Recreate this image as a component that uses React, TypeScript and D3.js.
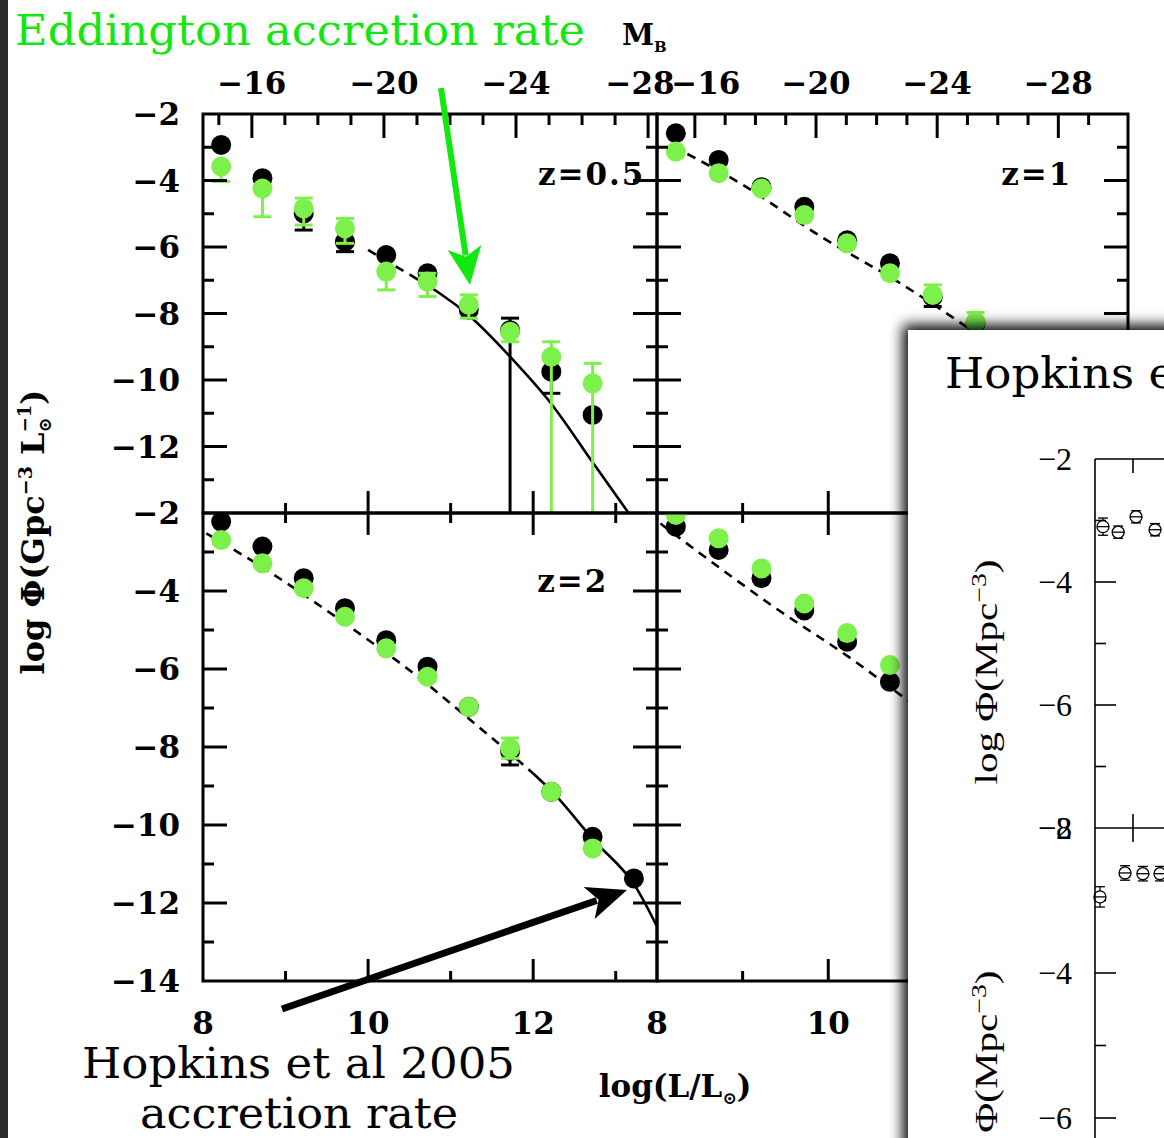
import React from 'react';
import * as d3 from 'd3';

const W = 1164;
const H = 1138;

// bin centres, log(L/Lsun), shared by all four panels
const binLogL = [8.22, 8.72, 9.22, 9.72, 10.22, 10.72, 11.22, 11.72, 12.22, 12.72, 13.22];

// z = 0.5
const z05Black = [-2.93, -3.93, -4.99, -5.84, -6.24, -6.79, -7.89, -8.5, -9.75, -11.05];
const z05BlackLo = [null, null, -5.49, -6.14, null, null, null, -15, -10.4, null];
const z05BlackHi = [null, null, null, null, null, null, null, -8.14, null, null];
const z05Green = [-3.58, -4.24, -4.84, -5.44, -6.74, -7.04, -7.74, -8.55, -9.3, -10.1];
const z05GreenLo = [-4.03, -5.09, -5.34, -5.89, -7.29, -7.49, -8.14, -8.85, -15, -15];
const z05GreenHi = [null, null, -4.53, -5.14, null, -6.79, -7.44, null, -8.85, -9.5];
const z05DashL = [10.0, 10.51];
const z05DashPhi = [-6.09, -6.84];
const z05SolidL = [10.51, 11.24, 11.72, 12.23, 12.73, 13.13, 13.3];
const z05SolidPhi = [-6.84, -8.1, -9.3, -10.75, -12.51, -13.91, -14.5];

// z = 1
const z1Black = [-2.58, -3.38, -4.2, -4.79, -5.8, -6.49, -7.5, -8.3];
const z1BlackLo = [null, null, null, null, null, null, -7.79, null];
const z1Green = [-3.13, -3.78, -4.24, -5.04, -5.89, -6.79, -7.44, -8.25];
const z1GreenHi = [null, null, null, null, null, null, -7.14, -7.97];
const z1DashL = [8.19, 8.97, 9.91, 10.84, 11.5, 12.0];
const z1DashPhi = [-2.98, -4.08, -5.68, -7.09, -8.2, -9.1];

// z = 2
const z2Black = [-2.22, -2.86, -3.67, -4.44, -5.26, -5.94, -6.97, -8.1, -9.15, -10.3, -11.37];
const z2BlackLo = [null, null, null, null, null, null, null, -8.46, null, null, null];
const z2Green = [-2.69, -3.29, -3.93, -4.66, -5.47, -6.2, -6.97, -8.03, -9.15, -10.6];
const z2GreenLo = [null, null, null, null, null, null, null, -8.29, null, null];
const z2GreenHi = [null, null, null, null, null, null, null, -7.77, null, null];
const z2DashL = [8.04, 8.71, 9.72, 10.73, 11.24, 11.72, 12.0];
const z2DashPhi = [-2.52, -3.38, -4.83, -6.41, -7.31, -8.16, -8.68];
const z2SolidL = [12.0, 12.21, 12.73, 13.24, 13.5];
const z2SolidPhi = [-8.68, -9.1, -10.38, -11.58, -12.6];

// z = 3 (right part hidden under the inset)
const z3Black = [-2.35, -2.95, -3.67, -4.5, -5.3, -6.33];
const z3Green = [-2.05, -2.65, -3.42, -4.32, -5.08, -5.9];
const z3DashL = [8.04, 8.5, 9.36, 10.29, 10.92, 11.5];
const z3DashPhi = [-2.27, -3.03, -4.4, -5.77, -6.79, -7.7];

// ticks
const xMajor = [10, 12];
const xMinor = [9, 11, 13];
const xLabels = [8, 10, 12];
const yMajor = [-4, -6, -8, -10, -12];
const yMinor = [-3, -5, -7, -9, -11, -13];
const topRowLabels = [-2, -4, -6, -8, -10, -12];
const bottomRowLabels = [-2, -4, -6, -8, -10, -12, -14];
const mbMajor = [-16, -20, -24, -28];
const mbMinorLeft = [-15, -17, -18, -19, -21, -22, -23, -25, -26, -27];
const mbMinorRight = [-17, -18, -19, -21, -22, -23, -25, -26, -27, -29];

// inset (Hopkins et al) points
const insetTopX = [0.21, 0.61, 1.08, 1.58];
const insetTopPhi = [-3.1, -3.19, -2.94, -3.15];
const insetBotX = [0.13, 0.79, 1.26, 1.71];
const insetBotPhi = [-2.95, -2.62, -2.63, -2.63];
const insetErr = [0.14, 0.1, 0.1, 0.1];
const insetTopLabels = [-2, -4, -6, -8];
const insetBotLabels = [-2, -4, -6];
const insetMajor = [-4, -6];
const insetMinor = [-3, -5, -7];

const GREEN_PT = '#7ef04c';
const GREEN_TXT = '#10e810';
const FONT = "'DejaVu Serif', serif";
const SLAB = "'DejaVu Serif', serif";
const INSET_FONT = "'Liberation Serif', serif";

const colX = [[203, 657], [657, 1128]];
const rowY = [[114, 513], [513, 981]];

const mbLeft = d3.scaleLinear().domain([-14.52, -28.27]).range(colX[0]);
const mbRight = d3.scaleLinear().domain([-14.75, -30.3]).range(colX[1]);

const panels = [
  { id: 'p05', col: 0, row: 0, label: 'z=0.5', labelL: 13.36, labelPhi: -4.14,
    black: z05Black, blackLo: z05BlackLo, blackHi: z05BlackHi,
    green: z05Green, greenLo: z05GreenLo, greenHi: z05GreenHi,
    dash: [z05DashL, z05DashPhi], solid: [z05SolidL, z05SolidPhi], mb: mbLeft, mbMinor: mbMinorLeft },
  { id: 'p1', col: 1, row: 0, label: 'z=1', labelL: 12.85, labelPhi: -4.14,
    black: z1Black, blackLo: z1BlackLo, blackHi: null,
    green: z1Green, greenLo: null, greenHi: z1GreenHi,
    dash: [z1DashL, z1DashPhi], solid: null, mb: mbRight, mbMinor: mbMinorRight },
  { id: 'p2', col: 0, row: 1, label: 'z=2', labelL: 12.91, labelPhi: -4.03,
    black: z2Black, blackLo: z2BlackLo, blackHi: null,
    green: z2Green, greenLo: z2GreenLo, greenHi: z2GreenHi,
    dash: [z2DashL, z2DashPhi], solid: [z2SolidL, z2SolidPhi], mb: null, mbMinor: null },
  { id: 'p3', col: 1, row: 1, label: '', labelL: 0, labelPhi: 0,
    black: z3Black, blackLo: null, blackHi: null,
    green: z3Green, greenLo: null, greenHi: null,
    dash: [z3DashL, z3DashPhi], solid: null, mb: null, mbMinor: null },
];

function Points({ x, y, vals, lo, hi, color }) {
  return (
    <g>
      {vals.map((v, i) => {
        if (v == null) return null;
        const cx = x(binLogL[i]);
        const l = lo ? lo[i] : null;
        const h = hi ? hi[i] : null;
        const ya = l != null ? y(l) : y(v);
        const yb = h != null ? y(h) : y(v);
        return (
          <g key={i}>
            {(l != null || h != null) && (
              <line x1={cx} x2={cx} y1={ya} y2={yb} stroke={color} strokeWidth={3} />
            )}
            {l != null && l > -14 && (
              <line x1={cx - 9} x2={cx + 9} y1={ya} y2={ya} stroke={color} strokeWidth={3} />
            )}
            {h != null && (
              <line x1={cx - 9} x2={cx + 9} y1={yb} y2={yb} stroke={color} strokeWidth={3} />
            )}
            <circle cx={cx} cy={y(v)} r={10} fill={color} />
          </g>
        );
      })}
    </g>
  );
}

function PanelView({ p }) {
  const [x0, x1] = colX[p.col];
  const [y0, y1] = rowY[p.row];
  const x = d3.scaleLinear().domain([8, 13.5]).range([x0, x1]);
  const y = d3.scaleLinear().domain([-2, -14]).range([y0, y1]);
  const line = d3.line().x((d) => x(d[0])).y((d) => y(d[1])).curve(d3.curveMonotoneX);
  const toPts = (arr) => arr[0].map((l, i) => [l, arr[1][i]]);
  const tk = [];
  yMajor.forEach((v) => {
    tk.push([x0, y(v), x0 + 24, y(v)]);
    tk.push([x1, y(v), x1 - 24, y(v)]);
  });
  yMinor.forEach((v) => {
    tk.push([x0, y(v), x0 + 11, y(v)]);
    tk.push([x1, y(v), x1 - 11, y(v)]);
  });
  xMajor.forEach((v) => tk.push([x(v), y1, x(v), y1 - 22]));
  xMinor.forEach((v) => tk.push([x(v), y1, x(v), y1 - 10]));
  if (p.mb) {
    mbMajor.forEach((v) => tk.push([p.mb(v), y0, p.mb(v), y0 + 24]));
    p.mbMinor.forEach((v) => {
      if (p.mb(v) > x0 + 2 && p.mb(v) < x1 - 2) tk.push([p.mb(v), y0, p.mb(v), y0 + 11]);
    });
  } else {
    xMajor.forEach((v) => tk.push([x(v), y0, x(v), y0 + 22]));
    xMinor.forEach((v) => tk.push([x(v), y0, x(v), y0 + 10]));
  }
  return (
    <g>
      <defs>
        <clipPath id={`clip-${p.id}`}>
          <rect x={x0} y={y0} width={x1 - x0} height={y1 - y0} />
        </clipPath>
      </defs>
      <g clipPath={`url(#clip-${p.id})`}>
        <path d={line(toPts(p.dash))} fill="none" stroke="#000" strokeWidth={2.6} strokeDasharray="9 7" />
        {p.solid && <path d={line(toPts(p.solid))} fill="none" stroke="#000" strokeWidth={2.6} />}
        <Points x={x} y={y} vals={p.black} lo={p.blackLo} hi={p.blackHi} color="#000" />
        <Points x={x} y={y} vals={p.green} lo={p.greenLo} hi={p.greenHi} color={GREEN_PT} />
      </g>
      {tk.map((t, i) => (
        <line key={i} x1={t[0]} y1={t[1]} x2={t[2]} y2={t[3]} stroke="#000" strokeWidth={3} />
      ))}
      <rect x={x0} y={y0} width={x1 - x0} height={y1 - y0} fill="none" stroke="#000" strokeWidth={3} />
      {p.label && (
        <text x={x(p.labelL)} y={y(p.labelPhi)} textAnchor="end" fontFamily={FONT} fontWeight="bold"
          fontSize={31} letterSpacing={2}>{p.label}</text>
      )}
    </g>
  );
}

function arrow(xa, ya, xb, yb, shaft, headLen, headHalf, color) {
  const dx = xb - xa;
  const dy = yb - ya;
  const len = Math.hypot(dx, dy);
  const ux = dx / len;
  const uy = dy / len;
  const bx = xb - ux * headLen;
  const by = yb - uy * headLen;
  const nx = -uy;
  const ny = ux;
  const head = `M${xb},${yb}L${bx + nx * headHalf},${by + ny * headHalf}L${bx + ux * headLen * 0.25},${by + uy * headLen * 0.25}L${bx - nx * headHalf},${by - ny * headHalf}Z`;
  return (
    <g>
      <line x1={xa} y1={ya} x2={bx + ux * 8} y2={by + uy * 8} stroke={color} strokeWidth={shaft} />
      <path d={head} fill={color} />
    </g>
  );
}

function Inset() {
  const ix = d3.scaleLinear().domain([0, 2]).range([1095, 1171]);
  const iyTop = d3.scaleLinear().domain([-2, -8]).range([459, 828]);
  const iyBot = d3.scaleLinear().domain([-2, -8]).range([828, 1263]);
  const subs = [
    { y: iyTop, xs: insetTopX, ph: insetTopPhi, labels: insetTopLabels, title: 672 },
    { y: iyBot, xs: insetBotX, ph: insetBotPhi, labels: insetBotLabels, title: 1083 },
  ];
  return (
    <g>
      <rect x={908} y={330} width={420} height={900} fill="#fff" filter="url(#inset-shadow)" />
      <text x={945} y={388} fontFamily={SLAB} fontSize={43} textLength={433} lengthAdjust="spacingAndGlyphs">
        Hopkins et al 2005
      </text>
      {subs.map((s, k) => (
        <g key={k}>
          <line x1={1095} x2={1200} y1={s.y(-2)} y2={s.y(-2)} stroke="#000" strokeWidth={1.6} />
          {insetMajor.map((v) => (
            <line key={v} x1={1095} x2={1116} y1={s.y(v)} y2={s.y(v)} stroke="#000" strokeWidth={1.6} />
          ))}
          {insetMinor.map((v) => (
            <line key={v} x1={1095} x2={1106} y1={s.y(v)} y2={s.y(v)} stroke="#000" strokeWidth={1.6} />
          ))}
          <line x1={ix(1)} x2={ix(1)} y1={s.y(-2)} y2={s.y(-2) + 14} stroke="#000" strokeWidth={1.6} />
          {s.labels.map((v) => (
            <text key={v} x={1072} y={s.y(v)} dominantBaseline="central" textAnchor="end"
              fontFamily={INSET_FONT} fontSize={32}>{'\u2212' + Math.abs(v)}</text>
          ))}
          <text transform={`translate(997,${s.title}) rotate(-90)`} textAnchor="middle"
            fontFamily={INSET_FONT} fontSize={31} textLength={225} lengthAdjust="spacingAndGlyphs">
            log Φ(Mpc<tspan dy={-11} fontSize={21}>{'\u22123'}</tspan><tspan dy={11}>)</tspan>
          </text>
          {s.xs.map((xv, i) => {
            const cx = ix(xv);
            const cy = s.y(s.ph[i]);
            const e = s.y(s.ph[i] - insetErr[i]) - cy;
            return (
              <g key={i} stroke="#000" strokeWidth={1.3}>
                <line x1={cx} x2={cx} y1={cy - e} y2={cy + e} />
                <line x1={cx - 5} x2={cx + 5} y1={cy - e} y2={cy - e} />
                <line x1={cx - 5} x2={cx + 5} y1={cy + e} y2={cy + e} />
                <circle cx={cx} cy={cy} r={6} fill="#fff" />
                <line x1={cx - 6} x2={cx + 6} y1={cy} y2={cy} />
              </g>
            );
          })}
        </g>
      ))}
      <line x1={ix(1)} x2={ix(1)} y1={iyTop(-8) - 14} y2={iyTop(-8)} stroke="#000" strokeWidth={1.6} />
      <line x1={1095} x2={1095} y1={459} y2={H} stroke="#000" strokeWidth={1.6} />
    </g>
  );
}

export default function App() {
  const xl = d3.scaleLinear().domain([8, 13.5]);
  const yTop = d3.scaleLinear().domain([-2, -14]).range(rowY[0]);
  const yBot = d3.scaleLinear().domain([-2, -14]).range(rowY[1]);
  // the two labels that meet at the column boundary are nudged apart, as in the source
  const mbNudge = (c, v) => (c === 0 && v === -28 ? -8 : c === 1 && v === -16 ? 11 : 0);
  return (
    <svg width={W} height={H} viewBox={`0 0 ${W} ${H}`}
      style={{ position: 'absolute', left: 0, top: 0, display: 'block' }}>
      <defs>
        <filter id="inset-shadow" x="-15%" y="-15%" width="140%" height="140%">
          <feDropShadow dx={-5} dy={-5} stdDeviation={7} floodColor="#000" floodOpacity={1} />
        </filter>
      </defs>
      <rect x={0} y={0} width={W} height={H} fill="#fff" />
      <rect x={0} y={0} width={8} height={H} fill="#2a2a2a" />

      {panels.map((p) => <PanelView key={p.id} p={p} />)}

      {/* y tick labels */}
      {topRowLabels.map((v) => (
        <text key={`t${v}`} x={180} y={yTop(v)} textAnchor="end" dominantBaseline="central"
          fontFamily={FONT} fontWeight="bold" fontSize={31}>{'\u2212' + Math.abs(v)}</text>
      ))}
      {bottomRowLabels.map((v) => (
        <text key={`b${v}`} x={180} y={yBot(v)} textAnchor="end" dominantBaseline="central"
          fontFamily={FONT} fontWeight="bold" fontSize={31}>{'\u2212' + Math.abs(v)}</text>
      ))}

      {/* x tick labels */}
      {colX.map((r, c) => xLabels.map((v) => (
        <text key={`x${c}${v}`} x={xl.copy().range(r)(v)} y={1034} textAnchor="middle"
          fontFamily={FONT} fontWeight="bold" fontSize={31}>{v}</text>
      )))}

      {/* M_B tick labels */}
      {[mbLeft, mbRight].map((s, c) => mbMajor.map((v) => (
        <text key={`m${c}${v}`} x={s(v) + mbNudge(c, v)} y={94} textAnchor="middle"
          fontFamily={FONT} fontWeight="bold" fontSize={31}>{'\u2212' + Math.abs(v)}</text>
      )))}

      <text x={622} y={45} fontFamily={FONT} fontWeight="bold" fontSize={29}>M</text>
      <text x={654} y={52} fontFamily={FONT} fontWeight="bold" fontSize={15}>B</text>

      <text x={675} y={1097} textAnchor="middle" fontFamily={FONT} fontWeight="bold" fontSize={31}>
        log(L/L<tspan dy={7} fontSize={17}>⊙</tspan><tspan dy={-7}>)</tspan>
      </text>

      <text transform="translate(44,532) rotate(-90)" textAnchor="middle" fontFamily={FONT}
        fontWeight="bold" fontSize={32}>
        log Φ(Gpc<tspan dy={-12} fontSize={19}>{'\u22123'}</tspan>
        <tspan dy={12}> L</tspan><tspan dy={7} fontSize={18}>⊙</tspan>
        <tspan dy={-20} dx={-15} fontSize={18}>{'\u22121'}</tspan><tspan dy={13}>)</tspan>
      </text>

      {/* annotations */}
      <text x={15} y={45} fill={GREEN_TXT} fontFamily={SLAB} fontSize={43} textLength={570}
        lengthAdjust="spacingAndGlyphs">Eddington accretion rate</text>
      {arrow(441, 88, 470, 285, 6, 38, 17, GREEN_TXT)}

      {arrow(282, 1009, 627, 890, 7, 40, 17, '#000')}
      <text x={82} y={1078} fontFamily={SLAB} fontSize={43} textLength={433}
        lengthAdjust="spacingAndGlyphs">Hopkins et al 2005</text>
      <text x={299} y={1128} textAnchor="middle" fontFamily={SLAB} fontSize={43} textLength={318}
        lengthAdjust="spacingAndGlyphs">accretion rate</text>

      <Inset />
    </svg>
  );
}
